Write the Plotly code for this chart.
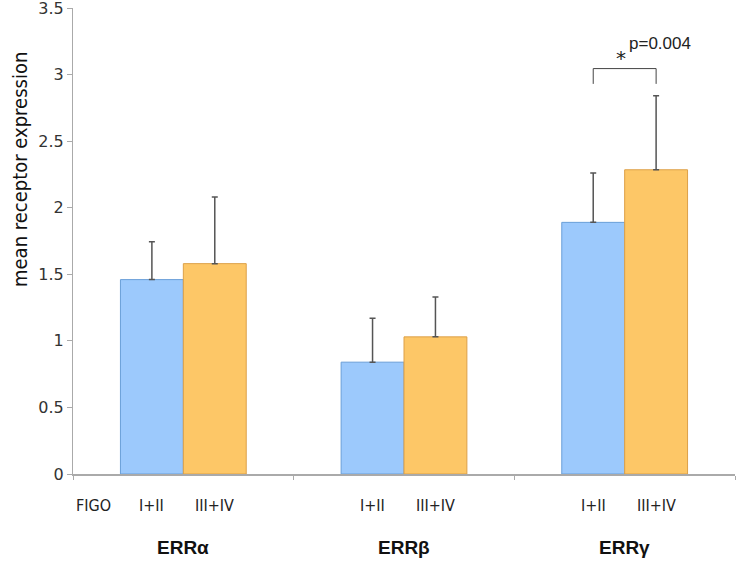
import plotly.graph_objects as go

receptors = ["ERRα", "ERRβ", "ERRγ"]
stage_labels = ["I+II", "III+IV"]
mean_early = [1.46, 0.84, 1.89]
mean_late = [1.58, 1.03, 2.285]
err_early = [0.285, 0.33, 0.37]
err_late = [0.50, 0.30, 0.555]
y_ticks = [0, 0.5, 1, 1.5, 2, 2.5, 3, 3.5]
y_tick_text = ["0", "0.5", "1", "1.5", "2", "2.5", "3", "3.5"]
sig_top = 3.045
sig_bottom = 2.93
sig_text = "p=0.004"
y_title = "mean receptor expression"

xs = list(range(len(receptors)))
cond = "DejaVu Sans Condensed, DejaVu Sans, sans-serif"

fig = go.Figure()
fig.add_trace(go.Bar(
    x=xs, y=mean_early, name=stage_labels[0],
    marker=dict(color="#9CC9FC", line=dict(color="#6A9FD8", width=1)),
    error_y=dict(type="data", symmetric=False, array=err_early,
                 arrayminus=[0] * 3, color="#555555", thickness=1.5, width=3),
))
fig.add_trace(go.Bar(
    x=xs, y=mean_late, name=stage_labels[1],
    marker=dict(color="#FDC767", line=dict(color="#DDA048", width=1)),
    error_y=dict(type="data", symmetric=False, array=err_late,
                 arrayminus=[0] * 3, color="#555555", thickness=1.5, width=3),
))

bw = (1 - 0.43) / 2
# significance bracket for ERRγ
gx = xs[2]
for x0, x1, y0, y1 in [(gx - bw / 2, gx - bw / 2, sig_bottom, sig_top),
                       (gx - bw / 2, gx + bw / 2, sig_top, sig_top),
                       (gx + bw / 2, gx + bw / 2, sig_bottom, sig_top)]:
    fig.add_shape(type="line", x0=x0, x1=x1, y0=y0, y1=y1,
                  line=dict(color="#444444", width=1))
fig.add_annotation(x=gx, y=sig_top, text="*", showarrow=False, xanchor="center",
                   yanchor="middle", yshift=11, xshift=-4,
                   font=dict(family="DejaVu Sans", size=20, color="#222"))
fig.add_annotation(x=gx + bw / 2, y=sig_top, text=sig_text, showarrow=False,
                   xanchor="center", yanchor="middle", yshift=25, xshift=4,
                   font=dict(family="Liberation Sans, Arial", size=17, color="#222"))

# stage labels and receptor names
for i, g in enumerate(xs):
    for j, lab in enumerate(stage_labels):
        fig.add_annotation(x=g + (-bw / 2 if j == 0 else bw / 2), y=0, yref="y",
                           text=lab, showarrow=False, yanchor="middle", yshift=-31,
                           font=dict(family=cond, size=16, color="#222"))
    fig.add_annotation(x=g, y=0, yref="y", text="<b>" + receptors[i] + "</b>",
                       showarrow=False, yanchor="middle", yshift=-73,
                       font=dict(family="Liberation Sans, Arial", size=19, color="#111"))
fig.add_annotation(x=-0.5, y=0, yref="y", text="FIGO", showarrow=False,
                   xanchor="left", yanchor="middle", yshift=-31, xshift=1,
                   font=dict(family=cond, size=16, color="#222"))

# y-axis title (placed above centre, as in the original)
fig.add_annotation(xref="paper", yref="paper", x=0, y=1, xanchor="center",
                   yanchor="middle", xshift=-53, yshift=-162, textangle=-90,
                   text=y_title, showarrow=False,
                   font=dict(family=cond, size=20, color="#111"))

fig.update_layout(
    width=738, height=564,
    margin=dict(l=73, r=3, t=8, b=90),
    paper_bgcolor="white", plot_bgcolor="white",
    barmode="group", bargap=0.43, bargroupgap=0,
    showlegend=False,
    xaxis=dict(range=[-0.5, 2.5], tickvals=[-0.5, 0.5, 1.5, 2.5], ticktext=["", "", "", ""],
               ticks="outside", ticklen=4, tickcolor="#AAAAAA", showline=True,
               linecolor="#AAAAAA", linewidth=1.5, showgrid=False, zeroline=False,
               automargin=False),
    yaxis=dict(range=[0, 3.5], tickvals=y_ticks, ticktext=y_tick_text,
               ticks="outside", ticklen=5, tickcolor="#AAAAAA", showline=True,
               linecolor="#AAAAAA", linewidth=1, showgrid=False, zeroline=False,
               automargin=False, ticklabeloverflow="allow",
               tickfont=dict(family="DejaVu Sans", size=16, color="#333")),
)

fig.write_html("out.html", config={"displayModeBar": False},
               post_script="document.body.style.margin='0';")
